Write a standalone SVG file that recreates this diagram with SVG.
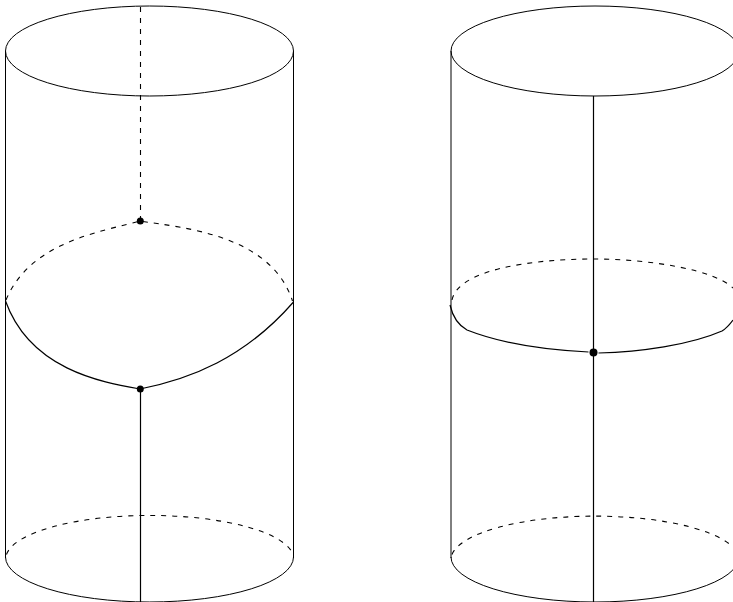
<svg xmlns="http://www.w3.org/2000/svg" width="733" height="602" viewBox="0 0 733 602">
<style>
.s{fill:none;stroke:#000;stroke-width:1}
.m{fill:none;stroke:#000;stroke-width:1.200}
.d{fill:none;stroke:#000;stroke-width:1.100;stroke-dasharray:5 6}
.p{fill:#000;stroke:none}
</style>
<rect width="733" height="602" fill="#fff"/>
<g id="cylinder-left">
<ellipse class="s" cx="149.500" cy="51" rx="144" ry="45"/>
<path class="s" d="M5.500 51V558M293.500 51V558"/>
<path class="s" d="M5.500 557A144 45 0 0 0 293.500 557"/>
<path class="d" d="M6.500 554.500A144 43.500 0 0 1 293 554.500"/>
</g>
<g id="cylinder-right">
<ellipse class="s" cx="595" cy="51" rx="144" ry="45"/>
<path class="s" d="M451 51V558M739 51V558"/>
<path class="s" d="M451 557A144 45 0 0 0 739 557"/>
<path class="d" d="M452 554.500A144 43.500 0 0 1 738 554.500"/>
</g>
<g id="connectors">
<path class="d" d="M140.500 7V221"/>
<path class="d" d="M6 300C30 242 100 232 140 221C185 228 271 235 292.500 301"/>
<path class="m" d="M5.500 301C30 369 100 382 140 389C190 379 244 358.700 293.500 302"/>
<path class="m" d="M140.500 389V602"/>
<path class="m" d="M593.500 96V602"/>
<path class="d" d="M452 300C458 270 530 259 594 259C650 259 715 270 733 288"/>
<path class="m" d="M450 305C453 318 458 325 467 330C500 343 545 350 588.500 352M598.500 353C640 352 690 345 722 331C727 328 730 324 733 320"/>
</g>
<g id="point-left-top"><circle class="p" cx="140.300" cy="221" r="3.500"/></g>
<g id="point-left-bottom"><circle class="p" cx="140.300" cy="389" r="3.500"/></g>
<g id="point-right"><circle class="p" cx="593.500" cy="352.500" r="4"/></g>
</svg>
